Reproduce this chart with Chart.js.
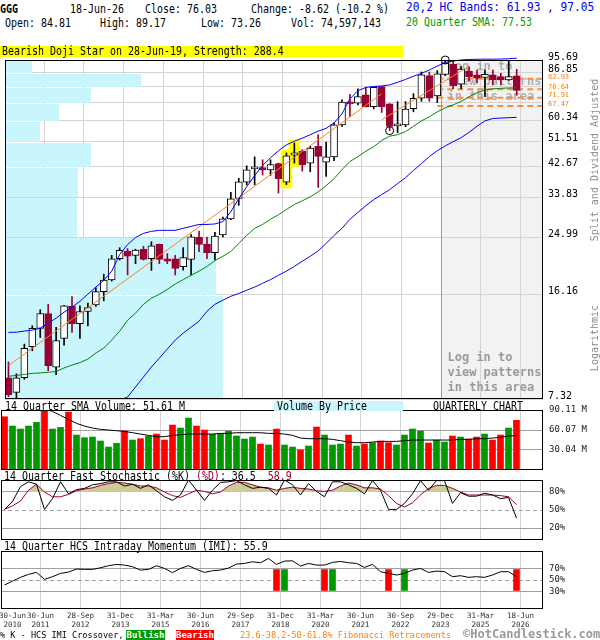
<!DOCTYPE html>
<html>
<head>
<meta charset="utf-8">
<title>GGG quarterly chart</title>
<script src="https://cdn.jsdelivr.net/npm/chart.js@4.4.1/dist/chart.umd.min.js"></script>
<style>
  html, body { margin: 0; padding: 0; background: #fff; }
  #page { position: relative; width: 600px; height: 640px; overflow: hidden; }
  #page canvas { position: absolute; left: 0; }
  .t { position: absolute; white-space: pre; font: 12px/12px "DejaVu Sans Mono", monospace; color: #000;
       transform: scaleX(0.83); transform-origin: 0 0; }
  .wide { transform: scaleX(0.93); }
  .small { font-size: 9px; line-height: 10px; transform: scaleX(0.95); }
  .side { position: absolute; width: 180px; text-align: center; white-space: pre; color: #8c8c8c;
          font: 10px/12px "DejaVu Sans Mono", monospace; transform: rotate(-90deg); }
  .tag { position: absolute; height: 11px; color: #fff; font: bold 9px/11px "DejaVu Sans Mono", monospace; text-align: center; }
</style>
</head>
<body>
<div id="page">
  <canvas id="price" width="600" height="358" style="top:46px"></canvas>
  <canvas id="vol" width="600" height="68" style="top:404px"></canvas>
  <canvas id="stoch" width="600" height="70" style="top:472px"></canvas>
  <canvas id="imi" width="600" height="98" style="top:542px"></canvas>

  <div class="t" style="left:0;top:3px;font-weight:bold">GGG</div>
  <div class="t" style="left:70px;top:3px">18-Jun-26</div>
  <div class="t" style="left:145px;top:3px">Close: 76.03</div>
  <div class="t" style="left:251px;top:3px">Change: -8.62 (-10.2 %)</div>
  <div class="t" style="left:5px;top:17px">Open: 84.81</div>
  <div class="t" style="left:100px;top:17px">High: 89.17</div>
  <div class="t" style="left:201px;top:17px">Low: 73.26</div>
  <div class="t" style="left:291px;top:17px">Vol: 74,597,143</div>
  <div class="t wide" style="left:406px;top:1px;color:#0000ee">20,2 HC Bands: 61.93 , 97.05</div>
  <div class="t" style="left:406px;top:16px;color:#009900">20 Quarter SMA: 77.53</div>
  <div style="position:absolute;left:0;top:46px;width:403px;height:11px;background:#ffff00"></div>
  <div class="t" style="left:2px;top:45px">Bearish Doji Star on 28-Jun-19, Strength: 288.4</div>

  <div class="side" style="left:505px;top:154px">Split and Dividend Adjusted</div>
  <div class="side" style="left:505px;top:332px">Logarithmic</div>

  <div class="t" style="left:5px;top:400px">14 Quarter SMA Volume: 51.61 M</div>
  <div style="position:absolute;left:274px;top:401px;width:129px;height:10px;background:#c9f5fd"></div>
  <div class="t" style="left:277px;top:400px">Volume By Price</div>
  <div class="t" style="left:433px;top:400px">QUARTERLY CHART</div>

  <div class="t" style="left:4px;top:470px">14 Quarter Fast Stochastic (%K) <span style="color:#990033">(%D)</span>: 36.5  <span style="color:#990033">58.9</span></div>
  <div class="t" style="left:4px;top:540px">14 Quarter HCS Intraday Momentum (IMI): 55.9</div>

  <div class="t small" style="left:0;top:630px">% K - HCS IMI Crossover,</div>
  <div class="tag" style="left:126px;top:630px;width:39px;background:#009900">Bullish</div>
  <div class="tag" style="left:176px;top:630px;width:38px;background:#ff0000">Bearish</div>
  <div class="t small" style="left:240px;top:630px;color:#ff8000">23.6-38.2-50-61.8% Fibonacci Retracements</div>
  <div class="t" style="left:463px;top:627px;font-size:12px;line-height:14px;font-weight:bold;color:#9a9a9a;transform:none">&copy;HotCandlestick.com</div>
</div>

<script>
// quarterly bars, 30-Jun-2010 .. 18-Jun-2026 (split and dividend adjusted)
const opens = [8.6, 7.7, 8.6, 10.88, 12.5, 14.0, 9.31, 11.59, 14.77, 12.97, 14.21, 14.94, 16.53, 18.05, 21.2, 22.47, 21.75, 22.78, 21.2, 23.64, 21.2, 21.2, 19.97, 21.1, 25.0, 23.7, 22.2, 25.4, 28.7, 33.5, 37.9, 41.9, 42.3, 41.6, 43.6, 37.9, 46.5, 47.9, 43.8, 49.7, 44.1, 45.9, 58.5, 69.5, 69.0, 73.5, 67.2, 78.2, 68.6, 58.1, 58.5, 66.2, 71.6, 85.0, 72.9, 85.8, 92.7, 79.6, 88.0, 85.5, 83.8, 85.5, 84.4, 82.3, 84.81];
const highs = [9.7, 8.86, 11.1, 12.75, 14.4, 15.0, 12.6, 14.9, 15.92, 14.83, 15.14, 17.03, 18.85, 21.75, 23.06, 22.9, 22.8, 23.28, 24.12, 23.7, 22.04, 21.75, 23.06, 25.49, 26.13, 25.0, 25.9, 29.1, 35.1, 39.0, 42.9, 45.9, 44.9, 44.9, 43.8, 47.3, 51.0, 48.5, 49.7, 54.3, 51.4, 59.3, 70.7, 73.8, 76.9, 77.8, 78.2, 78.3, 68.8, 69.8, 69.8, 74.1, 87.4, 87.4, 88.3, 95.69, 95.3, 91.0, 91.0, 88.7, 88.7, 88.7, 86.5, 95.6, 89.17];
const lows = [7.45, 7.38, 8.5, 10.55, 11.67, 9.07, 8.8, 11.01, 12.12, 11.59, 12.75, 14.77, 15.41, 17.9, 21.0, 18.75, 20.43, 21.0, 19.41, 20.43, 20.43, 18.75, 19.45, 18.75, 22.37, 21.2, 21.0, 25.0, 28.5, 31.8, 37.1, 37.1, 40.0, 39.9, 34.9, 37.2, 43.8, 41.2, 41.0, 36.4, 39.6, 44.6, 57.8, 62.4, 68.1, 67.0, 66.0, 64.3, 56.0, 55.1, 57.7, 64.6, 70.0, 70.0, 69.3, 85.0, 77.0, 77.0, 81.7, 80.4, 72.5, 79.2, 79.2, 82.0, 73.26];
const closes = [7.56, 8.6, 10.75, 12.5, 14.0, 9.42, 11.39, 14.83, 12.97, 14.21, 14.65, 16.53, 18.05, 21.2, 22.58, 21.64, 22.64, 21.1, 23.4, 21.1, 20.83, 19.71, 21.38, 25.05, 23.64, 22.2, 25.2, 28.7, 33.4, 38.0, 41.6, 42.2, 41.6, 43.3, 38.9, 46.3, 47.3, 43.3, 49.1, 46.1, 45.9, 58.5, 69.5, 68.6, 72.5, 67.2, 77.8, 67.2, 57.8, 58.5, 65.9, 71.6, 85.5, 71.6, 86.1, 93.5, 78.8, 89.4, 84.4, 83.4, 85.9, 82.3, 82.3, 84.4, 76.03];

const upperBand = [12.13, 12.15, 12.25, 12.34, 12.53, 13.01, 13.51, 14.14, 14.68, 15.36, 16.2, 17.1, 18.0, 19.3, 21.9, 23.6, 24.9, 25.7, 26.1, 26.3, 26.3, 26.3, 26.7, 27.1, 27.5, 27.5, 27.6, 28.1, 30.3, 33.4, 36.6, 39.8, 43.0, 45.6, 48.1, 50.3, 51.7, 52.9, 54.3, 55.8, 57.0, 59.4, 63.6, 71.3, 75.8, 77.7, 78.3, 78.6, 79.2, 80.8, 82.6, 84.6, 86.5, 88.7, 91.4, 93.9, 95.0, 95.7, 96.1, 96.2, 96.3, 96.3, 96.4, 96.6, 97.05];
const lowerBand = [null, null, null, null, null, null, null, null, null, null, null, null, null, 6.9, 7.25, 7.43, 8.02, 8.65, 9.33, 9.98, 10.69, 11.44, 12.06, 12.62, 13.21, 14.24, 15.01, 15.48, 15.95, 16.3, 16.7, 17.1, 17.6, 18.1, 18.7, 19.3, 20.0, 20.8, 21.6, 22.5, 23.8, 25.3, 26.7, 28.6, 30.1, 31.7, 33.2, 34.5, 35.8, 37.5, 39.2, 41.4, 43.6, 46.0, 48.1, 49.9, 51.5, 53.1, 55.3, 57.9, 60.3, 61.4, 61.6, 61.8, 61.93];
const sma20 = [8.70, 8.75, 8.82, 8.89, 8.92, 8.96, 9.02, 9.26, 9.47, 9.65, 9.91, 10.37, 10.77, 11.44, 12.24, 13.31, 14.03, 15.01, 15.72, 16.2, 16.8, 17.5, 18.1, 18.7, 19.3, 20.0, 20.9, 21.6, 22.4, 23.8, 25.3, 26.7, 27.5, 28.6, 29.6, 30.8, 32.0, 32.9, 33.9, 35.2, 36.9, 38.9, 41.7, 44.3, 46.0, 47.9, 49.6, 52.0, 53.7, 54.3, 55.6, 57.9, 60.3, 62.2, 64.6, 66.6, 68.1, 69.9, 72.4, 74.6, 76.3, 76.9, 77.2, 77.4, 77.53];

// orange trend segments [quarter, price]
const trendA = [[0, 9.43], [47, 74.1]];
const trendB = [[47, 60.8], [58, 91.3]];
const fibLevels = [82.93, 76.64, 71.91, 67.47];
const fibFrom = 54;

const pivotLows = [48];
const pivotHighs = [55];
const dojiStar = [35, 36];

const priceTicks = [7.32, 16.16, 24.99, 33.83, 42.67, 51.51, 60.34, 69.18, 78.01, 86.85, 95.69];
// volume by price (millions), one bin per price band, bottom to top
const vbpVolume = [406, 393, 133, 135, 159, 65, 101, 159, 253, 50];
const VBP_FULL = 1000; // volume that would span the whole plot width

const volumes = [80, 66, 61.5, 66, 71.5, 95, 61.5, 64, 87, 52.5, 48.5, 49.5, 43.5, 34.5, 40, 58.5, 45, 47, 51, 54, 45, 67.5, 63, 78, 66, 60, 53.5, 55, 58.5, 51, 46.5, 49.5, 39, 37.5, 61.5, 37.5, 34.5, 30, 36, 64.5, 52.5, 37.5, 39, 52.5, 36, 39, 41, 43.5, 41, 37.5, 52.5, 61.5, 58.5, 40.5, 45, 42, 51, 49.5, 46.5, 49.5, 54, 45, 52.5, 63, 74.6];
const volSma = [108, 104, 100, 97, 95, 92, 88, 82, 76, 70, 66, 63, 61, 60, 59, 58, 56, 54, 52, 50, 50, 52, 53, 54, 54, 54, 54, 55, 55, 56, 56, 56, 56, 55, 55, 54, 52, 48, 47, 47, 47, 46, 44, 42, 41, 41, 42, 43, 43, 43, 44, 45, 45, 45, 45, 45, 45, 46, 46, 47, 47, 48, 49, 51, 51.61];
const volTicks = [30.04, 60.07, 90.11];

const stochK = [51, 64, 89, 97, 93, 51, 69, 97, 77, 84, 86, 92, 94, 97, 97, 90, 93, 86, 92, 82, 72, 66, 75, 100, 83, 66, 83, 96, 97, 99, 92, 86, 88, 86, 75, 100, 92, 75, 94, 81, 72, 97, 97, 92, 86, 77, 99, 83, 51, 51, 61, 77, 99, 83, 99, 99, 61, 79, 73, 73, 78, 75, 69, 71, 36.5];
const stochD = [51, 57, 65, 83, 93, 80, 72, 72, 76, 82, 85, 87, 91, 94, 96, 95, 93, 90, 90, 87, 80, 74, 71, 77, 83, 81, 77, 80, 90, 96, 96, 92, 88, 87, 83, 86, 88, 86, 85, 82, 81, 83, 90, 95, 92, 87, 87, 85, 74, 61, 55, 62, 75, 86, 91, 91, 86, 80, 75, 75, 75, 75, 74, 72, 58.9];
const stochTicks = [20, 50, 80];

const imi = [41.4, 48, 54.6, 59.7, 63.1, 51.1, 55.7, 61.4, 63.7, 68.9, 68.3, 68.3, 71.1, 74.6, 76.9, 75.7, 72.9, 67.1, 68.3, 74.6, 70, 62.6, 70, 74.6, 68.3, 63.1, 66, 67.1, 70.6, 77.4, 78.6, 81.4, 79.7, 87.1, 76.9, 82.6, 83.1, 74, 78.6, 75.7, 75.7, 80.3, 82, 79.7, 78.6, 71.7, 76.9, 64.3, 61.4, 58.6, 61.4, 67.1, 70, 63.1, 65.4, 64.3, 55.7, 57.4, 54.6, 55.7, 54.6, 58.6, 64.3, 64.3, 55.9];
const imiTicks = [30, 50, 70];
const bullishCross = [35, 41, 50];
const bearishCross = [34, 40, 48, 64];

const dateIdx = [0, 4, 9, 14, 19, 24, 29, 34, 39, 44, 49, 54, 59, 64];
const dateLabels = [['30-Jun', '2010'], ['30-Jun', '2011'], ['28-Sep', '2012'], ['31-Dec', '2013'], ['31-Mar', '2015'], ['30-Jun', '2016'], ['29-Sep', '2017'], ['31-Dec', '2018'], ['31-Mar', '2020'], ['30-Jun', '2021'], ['30-Sep', '2022'], ['29-Dec', '2023'], ['31-Mar', '2025'], ['18-Jun', '2026']];

const MONO = '"DejaVu Sans Mono", monospace';
const GRID = '#d4d4d4';
const HLINE = '#a0a0a0';
const MAROON = '#990033';
const BLUE = '#0000ff';
const GREEN = '#008800';
const ORANGE = '#ff8020';
const FIB = '#ff8c3a';
const CYAN = '#c9f5fd';
const X_MIN = -0.4375, X_MAX = 67.3125;
const LOGIN_FROM = 54.5;
const LOGIN_TEXT = ['Log in to', 'view patterns', 'in this area'];
const CROSS_LO = 32, CROSS_HI = 68;

const idx = opens.map((_, i) => i);
const up = idx.map(i => closes[i] >= opens[i]);
const pts = arr => arr.map((v, i) => ({ x: i, y: v }));
const seg = s => s.map(([x, y]) => ({ x, y }));

function xAxis(height, showDates) {
    return {
        type: 'linear', min: X_MIN, max: X_MAX, offset: false,
        afterBuildTicks: s => { s.ticks = dateIdx.map((q, k) => ({ value: k === 0 ? q + 1 : q + 0.5 })); },
        afterFit: s => { s.height = height; s.paddingLeft = 0; s.paddingRight = 0; },
        grid: { offset: false, drawTicks: false, color: c => (c.index === 0 ? 'rgba(0,0,0,0)' : GRID) },
        border: { display: false },
        ticks: {
            display: showDates, autoSkip: false, maxRotation: 0, minRotation: 0, padding: 3, color: '#333',
            font: { family: MONO, size: 7.5, lineHeight: 1.2 },
            callback: (v, k) => dateLabels[k]
        }
    };
}

function panelY(max, ticks, fmt, dashed) {
    return {
        position: 'right', min: 0, max: max,
        afterBuildTicks: s => { s.ticks = ticks.map(v => ({ value: v })); },
        afterFit: s => { s.width = 57; s.paddingTop = 0; s.paddingBottom = 0; },
        grid: { color: HLINE, drawTicks: false },
        border: { display: false, dash: c => (c.tick && dashed.includes(c.tick.value) ? [4, 3] : []) },
        ticks: { autoSkip: false, padding: 6, color: '#222', font: { family: MONO, size: 9 }, callback: fmt }
    };
}

function options(padTop, padBottom, scales) {
    return {
        responsive: false, animation: false, events: [], devicePixelRatio: 1,
        layout: { padding: { left: 1, right: 0, top: padTop, bottom: padBottom } },
        plugins: { legend: { display: false }, tooltip: { enabled: false } },
        scales: scales
    };
}

const boxPlugin = {
    id: 'box',
    afterDraw(chart) {
        const { ctx, chartArea: a } = chart;
        ctx.save();
        ctx.strokeStyle = '#000';
        ctx.lineWidth = 1;
        ctx.strokeRect(a.left + 0.5, a.top + 0.5, a.right - a.left - 1, a.bottom - a.top - 1);
        ctx.restore();
    }
};

const priceDecor = {
    id: 'priceDecor',
    beforeDraw(chart) {
        const { ctx, chartArea: a, scales } = chart;
        const gx = Math.round(scales.x.getPixelForValue(LOGIN_FROM));
        ctx.save();
        ctx.fillStyle = '#f2f2f2';
        ctx.fillRect(gx, a.top, a.right - gx, a.bottom - a.top);
        ctx.restore();
    },
    beforeDatasetsDraw(chart) {
        const { ctx, chartArea: a, scales } = chart;
        const plotW = a.right - a.left;
        ctx.save();
        ctx.fillStyle = CYAN;
        vbpVolume.forEach((v, k) => {
            const top = Math.round(scales.y.getPixelForValue(priceTicks[k + 1]));
            const bot = Math.round(scales.y.getPixelForValue(priceTicks[k]));
            ctx.fillRect(a.left, top + 1, Math.round(v / VBP_FULL * plotW), bot - top - 1);
        });

        const gx = Math.round(scales.x.getPixelForValue(LOGIN_FROM)) + 0.5;
        ctx.strokeStyle = '#999';
        ctx.lineWidth = 1;
        ctx.beginPath();
        ctx.moveTo(gx, a.top);
        ctx.lineTo(gx, a.bottom);
        ctx.stroke();

        ctx.font = 'bold 12px ' + MONO;
        ctx.textBaseline = 'middle';
        ctx.fillStyle = 'rgba(130,130,130,0.6)';
        LOGIN_TEXT.forEach((s, k) => ctx.fillText(s, gx + 6, a.top + 7 + 15 * k));
        ctx.fillStyle = '#9a9a9a';
        LOGIN_TEXT.forEach((s, k) => ctx.fillText(s, gx + 6, a.bottom - 41 + 15 * k));
        ctx.restore();
    },
    afterDraw(chart) {
        // fibonacci level labels beside the price axis
        const { ctx, chartArea: a, scales } = chart;
        ctx.save();
        ctx.font = '7px ' + MONO;
        ctx.fillStyle = '#ff8000';
        ctx.textBaseline = 'middle';
        fibLevels.forEach(v => ctx.fillText(v.toFixed(2), a.right + 5, scales.y.getPixelForValue(v) - 2));
        ctx.restore();
    }
};

(function () {
    const crowded = v => fibLevels.some(f => Math.abs(f / v - 1) < 0.04);
    const line = (data, color, extra) => Object.assign({
        type: 'line', data: data, borderColor: color, borderWidth: 1, pointRadius: 0, order: 1
    }, extra || {});

    new Chart(document.getElementById('price'), {
        type: 'bar',
        data: {
            datasets: [
                {
                    type: 'line', showLine: false, order: 0, clip: 8,
                    data: pivotLows.map(i => ({ x: i, y: lows[i] })).concat(pivotHighs.map(i => ({ x: i, y: highs[i] }))),
                    pointRadius: 4, pointBorderWidth: 1, pointBorderColor: '#000', pointBackgroundColor: 'rgba(0,0,0,0)'
                },
                line(pts(upperBand), BLUE, { clip: { left: 0, top: 4, right: 0, bottom: 0 } }),
                line(pts(lowerBand), BLUE),
                line(pts(sma20), GREEN),
                line(seg(trendA), ORANGE),
                line(seg(trendB), ORANGE),
                ...fibLevels.map(v => line([{ x: fibFrom, y: v }, { x: X_MAX, y: v }], FIB, { borderWidth: 2, borderDash: [6, 4], order: 4 })),
                {
                    data: idx.map(i => ({ x: i, y: [Math.min(opens[i], closes[i]), Math.max(opens[i], closes[i])] })),
                    backgroundColor: idx.map(i => up[i] ? '#fff' : MAROON),
                    borderColor: idx.map(i => up[i] ? '#000' : MAROON),
                    borderWidth: 1, borderSkipped: false, barThickness: 7, minBarLength: 2, grouped: false, order: 2
                },
                {
                    data: idx.map(i => ({ x: i, y: [lows[i], highs[i]] })),
                    backgroundColor: idx.map(i => up[i] ? '#000' : MAROON),
                    barThickness: 1, grouped: false, order: 3
                },
                {
                    data: dojiStar.map(i => ({ x: i, y: [lows[i] * 0.975, highs[i] * 1.02] })),
                    backgroundColor: '#ffff00', barThickness: 11, grouped: false, order: 5
                }
            ]
        },
        options: options(14, 4, {
            x: xAxis(0, false),
            y: {
                type: 'logarithmic', position: 'right',
                min: priceTicks[0], max: priceTicks[priceTicks.length - 1],
                afterBuildTicks: s => { s.ticks = priceTicks.map(v => ({ value: v })); },
                afterFit: s => { s.width = 57; s.paddingTop = 0; s.paddingBottom = 0; },
                grid: { drawTicks: false, color: GRID },
                border: { display: false },
                ticks: {
                    autoSkip: false, padding: 5, labelOffset: -3, color: '#000',
                    font: { family: MONO, size: 10 },
                    callback: v => (crowded(v) ? '' : v.toFixed(2))
                }
            }
        }),
        plugins: [priceDecor, boxPlugin]
    });

    new Chart(document.getElementById('vol'), {
        type: 'bar',
        data: {
            datasets: [
                line(pts(volSma), '#000', { order: 0 }),
                {
                    data: pts(volumes),
                    backgroundColor: idx.map(i => up[i] ? '#009900' : '#ff0000'),
                    barThickness: 6, grouped: false, order: 1
                }
            ]
        },
        options: options(6, 2, {
            x: xAxis(0, false),
            y: panelY(volTicks[volTicks.length - 1], volTicks, v => v.toFixed(2) + ' M', [])
        }),
        plugins: [boxPlugin]
    });

    new Chart(document.getElementById('stoch'), {
        type: 'line',
        data: {
            datasets: [
                line(pts(stochK), '#000', { order: 0 }),
                line(pts(stochD), MAROON, {
                    order: 1,
                    fill: { target: { value: 80 }, above: '#cccc99', below: 'rgba(0,0,0,0)' }
                })
            ]
        },
        options: options(8, 2, {
            x: xAxis(0, false),
            y: panelY(100, stochTicks, v => v + '%', [50])
        }),
        plugins: [boxPlugin]
    });

    new Chart(document.getElementById('imi'), {
        type: 'bar',
        data: {
            datasets: [
                line(pts(imi), '#000', { order: 0 }),
                {
                    data: bullishCross.map(i => ({ x: i, y: [CROSS_LO, CROSS_HI] })),
                    backgroundColor: '#009900', barThickness: 6, grouped: false, order: 1
                },
                {
                    data: bearishCross.map(i => ({ x: i, y: [CROSS_LO, CROSS_HI] })),
                    backgroundColor: '#ff0000', barThickness: 6, grouped: false, order: 1
                }
            ]
        },
        options: options(9, 0, {
            x: xAxis(31, true),
            y: panelY(100, imiTicks, v => v + '%', [50])
        }),
        plugins: [boxPlugin]
    });
})();
</script>
</body>
</html>
